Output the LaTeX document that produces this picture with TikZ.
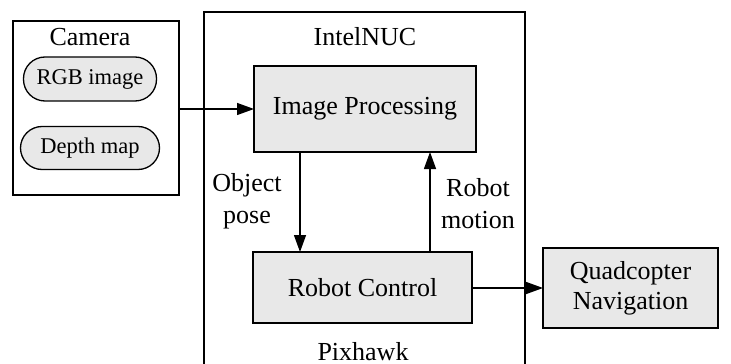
\documentclass[tikz,border=0pt]{standalone}
\usepackage{fontspec}
\setmainfont{Liberation Serif}
\usetikzlibrary{arrows.meta,calc}
\definecolor{boxgray}{HTML}{E8E8E8}
\begin{document}
\begin{tikzpicture}[x=0.5pt,y=-0.5pt,
  every node/.style={inner sep=0pt,outer sep=0pt},
  lbl/.style={font=\fontsize{13}{16}\selectfont,align=center},
  frame/.style={draw,line width=0.65pt},
  procbox/.style={draw,line width=0.65pt,fill=boxgray,font=\fontsize{13}{15}\selectfont,align=center},
  pill/.style={draw,line width=0.65pt,fill=boxgray,rounded corners=10.75pt,font=\fontsize{11.25}{13}\selectfont},
  arr/.style={line width=0.65pt,-{Triangle[length=8.5pt,width=6pt]}}]
\useasboundingbox (0,0) rectangle (731,363);
\clip (0,0) rectangle (731,363);
% frames
\node[frame,minimum width=83pt,minimum height=87pt] (cam) at (96,108) {};
\node[frame,minimum width=160.5pt,minimum height=184pt] (nuc) at (364.5,196) {};
\node[lbl,anchor=base] (camt) at (90,46) {Camera};
\node[lbl,anchor=base] (nuct) at (365,46) {IntelNUC};
\node[lbl,anchor=base] (pixt) at (363,360) {Pixhawk};
% pills
\node[pill,minimum width=66.5pt,minimum height=22pt] (rgb) at (90,79) {RGB image};
\node[pill,minimum width=69.5pt,minimum height=21.5pt] (dep) at (90,148) {Depth map};
% process boxes
\node[procbox,minimum width=111pt,minimum height=43pt] (ip) at (365,109) {Image Processing};
\node[procbox,minimum width=109.5pt,minimum height=35.5pt] (rc) at (362.5,287.5) {Robot Control};
\node[procbox,minimum width=87.5pt,minimum height=40pt] (qn) at (630.5,288) {Quadcopter\\Navigation};
% labels
\node[lbl] (op) at (247,201) {Object\\pose};
\node[lbl] (rm) at (478,204) {Robot\\motion};
% connectors
\coordinate (xd) at (300,0);
\coordinate (xu) at (430,0);
\draw[arr] (cam.east |- ip.west) -- (ip.west);
\draw[arr] (ip.south -| xd) -- (rc.north -| xd);
\draw[arr] (rc.north -| xu) -- (ip.south -| xu);
\draw[arr] (rc.east |- qn.west) -- (qn.west);
\end{tikzpicture}
\end{document}
